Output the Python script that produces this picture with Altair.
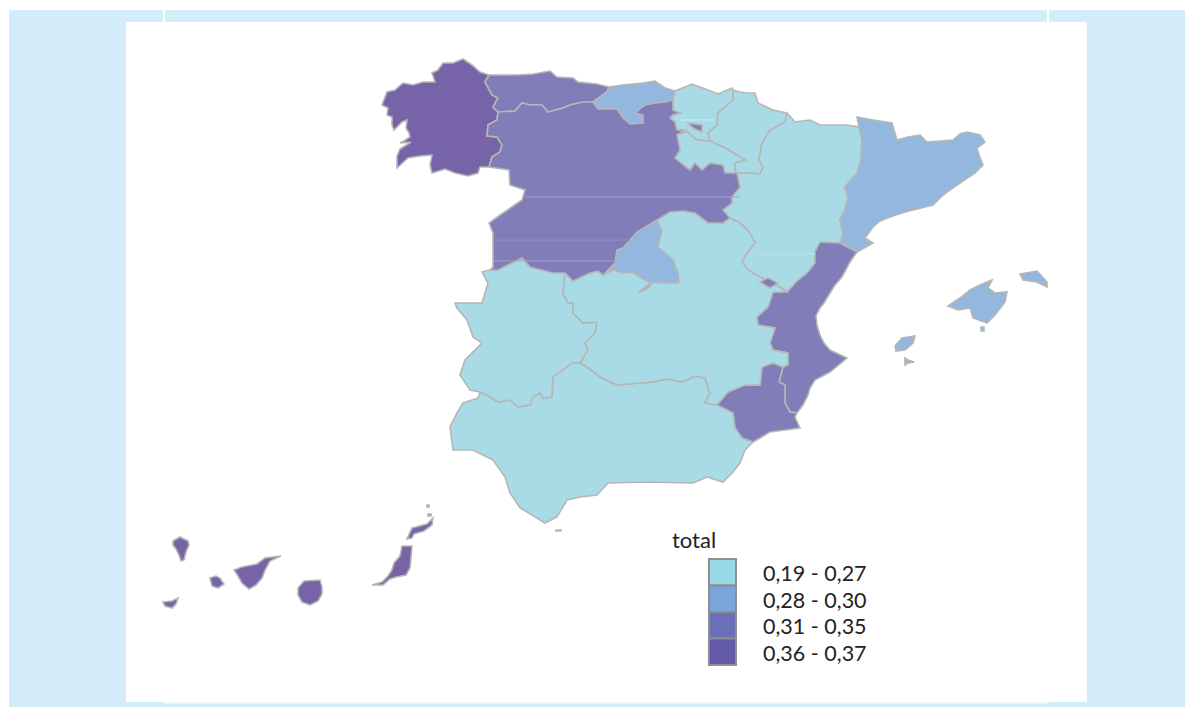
import altair as alt
import pandas as pd

# ---- class labels and colours ----
classes = ["0,19 - 0,27", "0,28 - 0,30", "0,31 - 0,35", "0,36 - 0,37"]
legend_colors = ["#99D8E6", "#78A6DB", "#6C70B8", "#625AA9"]
map_colors = ["#A8DBE5", "#93B7DE", "#807DB8", "#7663A8"]

# ---- traced map outlines (map units), shared borders kept once ----
gal_coast = [[489,75],[480,72],[472,65],[463,59],[453,63],[443,63],[438,70],[432,73],[435,82],[423,82],[413,85],[403,83],[395,90],[387,92],[382,105],[388,108],[387,115],[392,117],[392,125],[394,130],[402,122],[407,120],[406,128],[409,133],[410,137],[404,141],[400,143],[411,142],[400,149],[397,156],[397,168],[408,158],[420,156],[432,155],[430,165],[432,173],[445,169],[455,173],[468,176],[478,173],[480,167],[489,167]]
gal_cyl = [[489,167],[492,157],[500,152],[502,145],[497,137],[487,136],[488,125],[497,120],[498,112]]
gal_ast = [[498,112],[493,107],[498,98],[492,95],[485,82],[489,75]]
ast_coast = [[489,75],[517,75],[533,74],[550,71],[557,77],[573,78],[578,82],[597,84],[609,87]]
ast_can = [[609,87],[607,92],[593,102]]
ast_cyl = [[593,102],[583,102],[570,105],[563,108],[548,112],[542,105],[530,105],[522,103],[515,111],[498,112]]
can_coast = [[609,87],[623,85],[643,83],[655,81],[665,88],[675,91]]
can_bas = [[675,91],[673,100]]
can_cyl = [[673,100],[665,102],[655,103],[645,105],[635,113],[643,115],[643,123],[630,124],[623,118],[617,109],[598,109],[593,102]]
bas_coast = [[675,91],[692,84],[708,90],[718,94],[732,88],[733,90]]
bas_nav = [[733,90],[733,100],[718,113],[717,125],[708,133],[710,141]]
bas_rio = [[710,141],[697,140],[687,132],[677,135]]
bas_cyl = [[673,100],[673,110],[680,113],[673,115],[670,118],[675,122],[677,130],[685,130],[677,135]]
nav_coast = [[733,90],[740,92],[747,93],[755,93],[758,103],[773,110],[787,113]]
nav_ara = [[787,113],[785,122],[770,130],[762,143],[759,160],[763,167],[760,174],[748,173],[737,173]]
rio_nav = [[710,141],[725,148],[737,155],[745,160],[735,163],[735,170],[737,173]]
cyl_rio = [[677,135],[680,150],[675,158],[690,170],[695,163],[702,170],[710,163],[723,165],[725,173],[737,173]]
ara_coast = [[787,113],[795,122],[810,120],[820,125],[833,125],[846,125],[859,127]]
ara_cat = [[859,127],[862,140],[861,160],[857,173],[845,187],[848,197],[845,210],[840,220],[843,233],[840,243]]
ara_val = [[840,243],[820,242],[815,252],[815,263],[807,273],[798,280],[787,292]]
ara_clm = [[787,292],[778,286],[760,277],[748,270],[742,262],[747,253],[755,243],[750,233],[740,223],[730,218]]
ara_cyl = [[730,218],[723,210],[732,203],[732,197],[740,187],[737,173]]
cat_coast = [[859,127],[857,117],[873,120],[892,123],[897,140],[908,137],[920,135],[927,142],[940,141],[953,140],[960,134],[967,132],[980,135],[985,142],[977,148],[979,155],[983,165],[975,173],[960,183],[947,192],[940,198],[933,205],[913,210],[902,213],[890,217],[880,221],[873,227],[865,238],[873,243],[857,252]]
cat_val = [[857,252],[840,243]]
val_coast = [[857,252],[850,262],[842,277],[835,285],[830,293],[824,303],[820,308],[816,316],[817,325],[820,335],[824,343],[830,350],[847,358],[840,364],[830,372],[815,380],[810,388],[808,395],[803,405],[797,413]]
val_mur = [[797,413],[790,412],[785,403],[785,385],[779,382],[783,367]]
val_clm = [[783,367],[788,365],[788,353],[773,350],[770,343],[775,328],[758,325],[757,317],[768,307],[773,292],[787,292]]
mur_clm = [[783,367],[773,363],[762,367],[760,385],[745,385],[728,392],[717,405]]
and_mur = [[717,405],[733,413],[735,428],[742,438],[753,442]]
mur_coast = [[753,442],[760,438],[770,432],[800,428],[795,417],[797,413]]
and_clm = [[717,405],[705,403],[710,393],[705,378],[695,376],[683,382],[667,379],[653,382],[640,383],[617,385],[600,377],[587,367],[580,363]]
and_ext = [[580,363],[572,363],[553,377],[552,397],[543,398],[540,393],[533,397],[530,405],[518,407],[510,400],[498,402],[487,395],[480,392]]
and_coast = [[480,392],[478,398],[463,403],[457,413],[450,427],[453,450],[473,450],[493,460],[505,477],[510,493],[520,508],[532,515],[545,523],[557,517],[567,500],[580,497],[597,495],[608,483],[650,482],[693,483],[707,477],[723,482],[733,472],[740,463],[745,450],[753,442]]
ext_port = [[480,392],[470,390],[460,375],[465,360],[482,343],[473,337],[467,320],[457,308],[455,303],[482,303],[488,283],[482,272],[490,270]]
ext_cyl = [[490,270],[498,270],[522,258],[530,267],[553,273],[565,273]]
ext_clm = [[565,273],[563,293],[568,303],[573,303],[573,313],[583,323],[597,322],[595,333],[585,343],[588,350],[580,363]]
cyl_clm1 = [[565,273],[573,281],[590,273],[598,271],[603,275]]
cyl_mad = [[603,275],[615,263],[617,250],[623,248],[637,232],[657,220]]
mad_clm = [[657,220],[662,230],[658,247],[673,260],[678,273],[679,283],[660,283],[653,282],[648,288],[638,293],[650,283],[640,277],[632,272],[623,273],[613,270],[603,275]]
cyl_clm2 = [[657,220],[670,212],[683,211],[695,213],[708,223],[723,223],[730,218]]
cyl_port = [[489,167],[509,170],[510,185],[525,190],[522,200],[503,213],[489,223],[493,233],[493,267],[490,270]]

trevino = [[688,123],[702,125],[702,132],[693,128]]
rincon = [[760,282],[768,278],[778,283],[770,288]]
ceuta = [[556,530],[561,530],[561,531],[556,531]]
mallorca = [[948,306],[960,298],[970,290],[980,285],[992,280],[988,288],[995,293],[1007,292],[1005,302],[995,315],[987,323],[973,318],[970,308],[958,310]]
cabrera = [[981,327],[984,327],[984,331],[981,331]]
menorca = [[1020,274],[1037,271],[1047,282],[1047,287],[1037,282],[1023,280]]
ibiza = [[895,346],[902,338],[915,336],[913,343],[905,350],[896,351]]
formentera = [[905,358],[908,360],[914,362],[908,363],[905,365]]
la_palma = [[173,541],[180,537],[188,541],[189,545],[186,552],[184,560],[181,561],[179,555],[176,549],[173,545]]
el_hierro = [[163,602],[172,601],[178,598],[176,604],[172,608],[165,606]]
la_gomera = [[210,578],[216,576],[220,578],[224,584],[218,588],[212,586]]
tenerife = [[234,570],[242,567],[257,564],[265,558],[281,556],[270,561],[265,570],[262,578],[256,585],[249,589],[242,583],[238,576]]
gran_canaria = [[304,581],[320,580],[322,587],[322,594],[318,601],[310,605],[302,602],[298,595],[298,588]]
fuerteventura = [[402,546],[412,546],[411,558],[410,568],[406,575],[396,577],[390,579],[383,585],[372,585],[382,582],[388,576],[392,570],[394,563],[400,556]]
lanzarote = [[412,528],[427,524],[433,518],[432,525],[424,531],[414,534],[412,538],[407,539]]
graciosa = [[428,514],[431,514],[431,516],[428,516]]
alegranza = [[427,505],[429,505],[429,507],[427,507]]

# faint scan streaks across the regions
streaks = [
    [[526,197],[740,197],"#A9A3CF"],
    [[493,240],[630,240],"#918DC2"],
    [[493,261],[615,261],"#A9A3CF"],
    [[755,254],[815,254],"#B9E2E9"],
    [[680,120],[715,120],"#C9ECF0"],
]

# ---- page pieces: backdrop, white panel, small notches, bottom stripe ----
panel_x = [0, 117, 154, 1038, 154]
panel_x2 = [1176, 1078, 156, 1040, 1040]
panel_y = [0, 12, 0, 0, 692]
panel_y2 = [697, 692, 12, 12, 694]
panel_col = ["#D4ECFA", "#FFFFFF", "#FFFFFF", "#FFFFFF", "#E9F6FD"]


def rev(a):
    return a[::-1]


def ring(*arcs):
    pts = []
    for a in arcs:
        pts.extend(a if not pts else a[1:])
    if pts[0] != pts[-1]:
        pts.append(pts[0])
    return pts


def simple(a):
    return a + [a[0]]


regions = [
    ("Galicia", 3, [ring(gal_coast, gal_cyl, gal_ast)]),
    ("Asturias", 2, [ring(ast_coast, ast_can, ast_cyl, gal_ast)]),
    ("Cantabria", 1, [ring(can_coast, can_bas, can_cyl, rev(ast_can))]),
    ("País Vasco", 0, [ring(bas_coast, bas_nav, bas_rio, rev(bas_cyl), rev(can_bas))]),
    ("Navarra", 0, [ring(nav_coast, nav_ara, rev(rio_nav), rev(bas_nav))]),
    ("La Rioja", 0, [ring(rio_nav, rev(cyl_rio), rev(bas_rio))]),
    ("Aragón", 0, [ring(ara_coast, ara_cat, ara_val, ara_clm, ara_cyl, rev(nav_ara))]),
    ("Cataluña", 1, [ring(cat_coast, cat_val, rev(ara_cat))]),
    ("Valencia", 2, [ring(val_coast, val_mur, val_clm, rev(ara_val), rev(cat_val))]),
    ("Murcia", 2, [ring(mur_clm, and_mur, mur_coast, val_mur)]),
    ("Andalucía", 0, [ring(and_clm, and_ext, and_coast, rev(and_mur)), simple(ceuta)]),
    ("Extremadura", 0, [ring(ext_port, ext_cyl, ext_clm, and_ext)]),
    ("Madrid", 1, [ring(cyl_mad, mad_clm)]),
    ("Castilla-La Mancha", 0, [ring(cyl_clm1, rev(mad_clm), cyl_clm2, rev(ara_clm), rev(val_clm), mur_clm, and_clm, rev(ext_clm))]),
    ("Castilla y León", 2, [ring(cyl_port, ext_cyl, cyl_clm1, cyl_mad, cyl_clm2, ara_cyl, rev(cyl_rio), rev(bas_cyl), can_cyl, ast_cyl, rev(gal_cyl))]),
    ("Treviño", 2, [simple(trevino)]),
    ("Rincón de Ademuz", 2, [simple(rincon)]),
    ("Baleares", 1, [simple(mallorca), simple(cabrera), simple(menorca), simple(ibiza), simple(formentera)]),
    ("Canarias", 3, [simple(la_palma), simple(el_hierro), simple(la_gomera), simple(tenerife), simple(gran_canaria), simple(fuerteventura), simple(lanzarote), simple(graciosa), simple(alegranza)]),
]

features = [
    {"type": "Feature",
     "properties": {"name": n, "total": classes[c]},
     "geometry": {"type": "MultiPolygon", "coordinates": [[r] for r in rings]}}
    for n, c, rings in regions
]
streak_features = [
    {"type": "Feature", "properties": {"col": s[2]},
     "geometry": {"type": "LineString", "coordinates": [s[0], s[1]]}}
    for s in streaks
]

projection = dict(type="identity", scale=1, translate=[-9, -10])

panel = alt.Chart(pd.DataFrame({"a": panel_x, "b": panel_x2, "c": panel_y, "d": panel_y2, "col": panel_col})).mark_rect().encode(
    x=alt.X("a:Q", scale=None, axis=None),
    x2="b:Q",
    y=alt.Y("c:Q", scale=None, axis=None),
    y2="d:Q",
    fill=alt.Fill("col:N", scale=None, legend=None),
    order="a:Q",
)

land = alt.Chart(alt.Data(values=features)).mark_geoshape(
    stroke="#B6B6B6", strokeWidth=1.6
).encode(
    fill=alt.Fill(
        "properties.total:N",
        scale=alt.Scale(domain=classes, range=map_colors),
        legend=None,
    )
).project(**projection)

streak_layer = alt.Chart(alt.Data(values=streak_features)).mark_geoshape(
    filled=False, strokeWidth=1
).encode(
    stroke=alt.Stroke("properties.col:N", scale=None, legend=None)
).project(**projection)

legend_y = alt.Y(
    "total:N",
    scale=alt.Scale(domain=classes, range=[549, 655], paddingInner=0, paddingOuter=0),
    axis=None,
)
legend_df = pd.DataFrame({"total": classes})

key_swatches = alt.Chart(legend_df).mark_rect(stroke="#8E8E8E", strokeWidth=2).encode(
    x=alt.value(700),
    x2=alt.value(727),
    y=legend_y,
    fill=alt.Fill(
        "total:N",
        scale=alt.Scale(domain=classes, range=legend_colors),
        legend=None,
    ),
)

key_labels = alt.Chart(legend_df).mark_text(
    font="Lato", fontSize=21.5, align="left", baseline="middle", color="#222222", dy=3
).encode(text="total:N", x=alt.value(754), y=legend_y)

title = alt.Chart(pd.DataFrame({"t": ["total"]})).mark_text(
    font="Lato", fontSize=22, align="left", baseline="middle", color="#222222"
).encode(text="t:N", x=alt.value(663), y=alt.value(531))

chart = alt.layer(panel, land, streak_layer, key_swatches, key_labels, title).resolve_scale(
    fill="independent", y="independent"
).properties(
    width=1176, height=697, background="#FFFFFF",
    padding={"left": 1, "top": 2, "right": 0, "bottom": 0},
    autosize=alt.AutoSizeParams(type="none"),
).configure_view(stroke=None)

chart.save("out.html", embed_options={"renderer": "svg", "actions": False})
